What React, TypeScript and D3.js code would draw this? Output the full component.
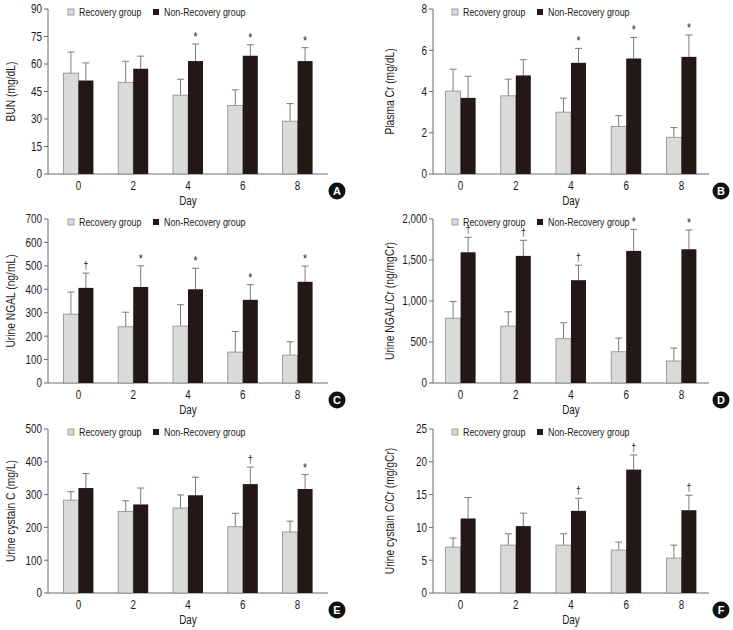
import React from "react";
import * as d3 from "d3";

const days = ["0", "2", "4", "6", "8"];
const seriesNames = ["Recovery group", "Non-Recovery group"];

const bunRec = [55, 50, 43, 37.4, 28.8];
const bunRecSd = [11.5, 11.5, 8.7, 8.5, 9.6];
const bunNon = [51, 57.4, 61.6, 64.5, 61.6];
const bunNonSd = [9.6, 6.9, 9.3, 6.0, 7.3];
const bunMarks = ["", "", "*", "*", "*"];
const bunTicks = [0, 15, 30, 45, 60, 75, 90];

const crRec = [4.02, 3.79, 3.0, 2.3, 1.78];
const crRecSd = [1.06, 0.81, 0.68, 0.53, 0.47];
const crNon = [3.69, 4.78, 5.39, 5.6, 5.68];
const crNonSd = [1.05, 0.76, 0.7, 1.02, 1.06];
const crMarks = ["", "", "*", "*", "*"];
const crTicks = [0, 2, 4, 6, 8];

const ngalRec = [294, 240, 243, 132, 119];
const ngalRecSd = [94, 62, 91, 88, 57];
const ngalNon = [406, 410, 400, 355, 432];
const ngalNonSd = [63, 90, 90, 65, 67];
const ngalMarks = ["†", "*", "*", "*", "*"];
const ngalTicks = [0, 100, 200, 300, 400, 500, 600, 700];

const ngalCrRec = [791, 694, 540, 381, 268];
const ngalCrRecSd = [203, 174, 194, 167, 158];
const ngalCrNon = [1594, 1550, 1254, 1611, 1631];
const ngalCrNonSd = [183, 190, 182, 263, 235];
const ngalCrMarks = ["†", "†", "†", "*", "*"];
const ngalCrTicks = [0, 500, 1000, 1500, 2000];

const cysRec = [283, 249, 259, 202, 186];
const cysRecSd = [26, 32, 40, 41, 33];
const cysNon = [320, 270, 298, 332, 317];
const cysNonSd = [44, 50, 55, 52, 44];
const cysMarks = ["", "", "", "†", "*"];
const cysTicks = [0, 100, 200, 300, 400, 500];

const cysCrRec = [7.0, 7.3, 7.3, 6.54, 5.32];
const cysCrRecSd = [1.37, 1.73, 1.73, 1.22, 1.98];
const cysCrNon = [11.36, 10.2, 12.52, 18.81, 12.62];
const cysCrNonSd = [3.19, 1.97, 1.93, 2.23, 2.28];
const cysCrMarks = ["", "", "†", "†", "†"];
const cysCrTicks = [0, 5, 10, 15, 20, 25];

const FONT = "'Liberation Sans', Arial, sans-serif";
const LIGHT = "#d9dbd9";
const LIGHT_STROKE = "#8a8a8a";
const DARK = "#231815";
const AXIS = "#6b6b6b";
const ERR = "#7a7a7a";
const SX = 0.79;

function T(props: { x: number; y: number; rot?: number; anchor?: string; size: number; children: any; dy?: string; weight?: string; fill?: string }) {
  const { x, y, rot = 0, anchor = "start", size, dy = "0", weight = "normal", fill = "#1a1a1a" } = props;
  return (
    <text transform={`translate(${x},${y}) rotate(${rot}) scale(${SX},1)`} textAnchor={anchor} dy={dy}
      fontSize={size} fontWeight={weight} fill={fill} fontFamily={FONT}>
      {props.children}
    </text>
  );
}

type PanelProps = {
  x0: number; x1: number; yTop: number; yBot: number;
  ticks: number[]; fmt?: (v: number) => string;
  rec: number[]; recSd: number[]; non: number[]; nonSd: number[]; marks: string[];
  ylabel: string; ylabelX: number; letter: string; letterX: number; pad: number; legX: number;
};

function Panel(p: PanelProps) {
  const y = d3.scaleLinear().domain([0, p.ticks[p.ticks.length - 1]]).range([p.yBot, p.yTop]);
  const x = d3.scalePoint<string>().domain(days).range([p.x0, p.x1]).padding(p.pad);
  const inner = d3.scaleBand<string>().domain(seriesNames).range([-15, 15]);
  const fmt = p.fmt || ((v: number) => String(v));
  const bw = inner.bandwidth();
  const groups = [
    { vals: p.rec, sd: p.recSd, fill: LIGHT, stroke: LIGHT_STROKE, name: seriesNames[0] },
    { vals: p.non, sd: p.nonSd, fill: DARK, stroke: DARK, name: seriesNames[1] },
  ];
  const legY = p.yTop + 3;
  const legX = p.legX;
  return (
    <g>
      <line x1={p.x0} x2={p.x0} y1={p.yTop} y2={p.yBot} stroke={AXIS} strokeWidth={1} />
      <line x1={p.x0} x2={p.x1} y1={p.yBot} y2={p.yBot} stroke={AXIS} strokeWidth={1} />
      {p.ticks.map((t) => (
        <g key={t}>
          <line x1={p.x0 - 4} x2={p.x0} y1={y(t)} y2={y(t)} stroke={AXIS} />
          <T x={p.x0 - 6} y={y(t)} dy="0.35em" anchor="end" size={12.5}>{fmt(t)}</T>
        </g>
      ))}
      {groups.map((g, gi) =>
        days.map((d, i) => {
          const cx = (x(d) as number) + (inner(g.name) as number);
          const top = y(g.vals[i]);
          const et = y(g.vals[i] + g.sd[i]);
          const mid = cx + bw / 2;
          return (
            <g key={gi + "-" + d}>
              <line x1={mid} x2={mid} y1={top} y2={et} stroke={ERR} strokeWidth={1} />
              <line x1={mid - 3.5} x2={mid + 3.5} y1={et} y2={et} stroke={ERR} strokeWidth={1} />
              <rect x={cx} y={top} width={bw} height={p.yBot - top} fill={g.fill}
                stroke={g.stroke} strokeWidth={gi === 0 ? 0.8 : 0} />
              {gi === 1 && p.marks[i] ? (
                p.marks[i] === "*" ? (
                  <T x={mid} y={et - 3} anchor="middle" size={13}>*</T>
                ) : (
                  <T x={mid} y={et - 4} anchor="middle" size={11}>†</T>
                )
              ) : null}
            </g>
          );
        })
      )}
      {days.map((d) => (
        <T key={d} x={x(d) as number} y={p.yBot + 16} anchor="middle" size={12.5}>{d}</T>
      ))}
      <T x={(p.x0 + p.x1) / 2} y={p.yBot + 31} anchor="middle" size={12.5}>Day</T>
      <T x={p.ylabelX} y={(p.yTop + p.yBot) / 2} rot={-90} anchor="middle" dy="0.35em" size={13}>{p.ylabel}</T>
      <rect x={legX} y={legY - 3} width={6} height={6} fill={LIGHT} stroke={LIGHT_STROKE} strokeWidth={0.8} />
      <T x={legX + 11} y={legY} dy="0.35em" size={11.2}>{seriesNames[0]}</T>
      <rect x={legX + 85} y={legY - 3} width={6} height={6} fill={DARK} />
      <T x={legX + 96} y={legY} dy="0.35em" size={11.2}>{seriesNames[1]}</T>
      <circle cx={p.letterX} cy={p.yBot + 17} r={8.5} fill="#111" />
      <text x={p.letterX} y={p.yBot + 17} dy="0.36em" textAnchor="middle" fontSize={11} fontWeight="bold"
        fill="#fff" fontFamily={FONT}>{p.letter}</text>
    </g>
  );
}

export default function App() {
  const L = { x0: 48, x1: 328, ylabelX: 10, letterX: 337, pad: 0.555, legX: 68 };
  const R = { x0: 433, x1: 709, ylabelX: 389, letterX: 721, pad: 0.5, legX: 452 };
  const rows = [
    { yTop: 9, yBot: 174 },
    { yTop: 219, yBot: 383 },
    { yTop: 429, yBot: 593 },
  ];
  const comma = d3.format(",");
  return (
    <svg width={733} height={630} style={{ position: "absolute", left: 0, top: 0, background: "#fff" }}>
      <rect width={733} height={630} fill="#fff" />
      <Panel {...L} {...rows[0]} ticks={bunTicks} rec={bunRec} recSd={bunRecSd} non={bunNon} nonSd={bunNonSd}
        marks={bunMarks} ylabel="BUN (mg/dL)" letter="A" />
      <Panel {...R} {...rows[0]} ticks={crTicks} rec={crRec} recSd={crRecSd} non={crNon} nonSd={crNonSd}
        marks={crMarks} ylabel="Plasma Cr (mg/dL)" letter="B" />
      <Panel {...L} {...rows[1]} ticks={ngalTicks} rec={ngalRec} recSd={ngalRecSd} non={ngalNon} nonSd={ngalNonSd}
        marks={ngalMarks} ylabel="Urine NGAL (ng/mL)" letter="C" />
      <Panel {...R} {...rows[1]} ticks={ngalCrTicks} fmt={comma} rec={ngalCrRec} recSd={ngalCrRecSd} non={ngalCrNon}
        nonSd={ngalCrNonSd} marks={ngalCrMarks} ylabel="Urine NGAL/Cr (ng/mgCr)" letter="D" />
      <Panel {...L} {...rows[2]} ticks={cysTicks} rec={cysRec} recSd={cysRecSd} non={cysNon} nonSd={cysNonSd}
        marks={cysMarks} ylabel="Urine cystain C (mg/L)" letter="E" />
      <Panel {...R} {...rows[2]} ticks={cysCrTicks} rec={cysCrRec} recSd={cysCrRecSd} non={cysCrNon}
        nonSd={cysCrNonSd} marks={cysCrMarks} ylabel="Urine cystain C/Cr (mg/gCr)" letter="F" />
    </svg>
  );
}
